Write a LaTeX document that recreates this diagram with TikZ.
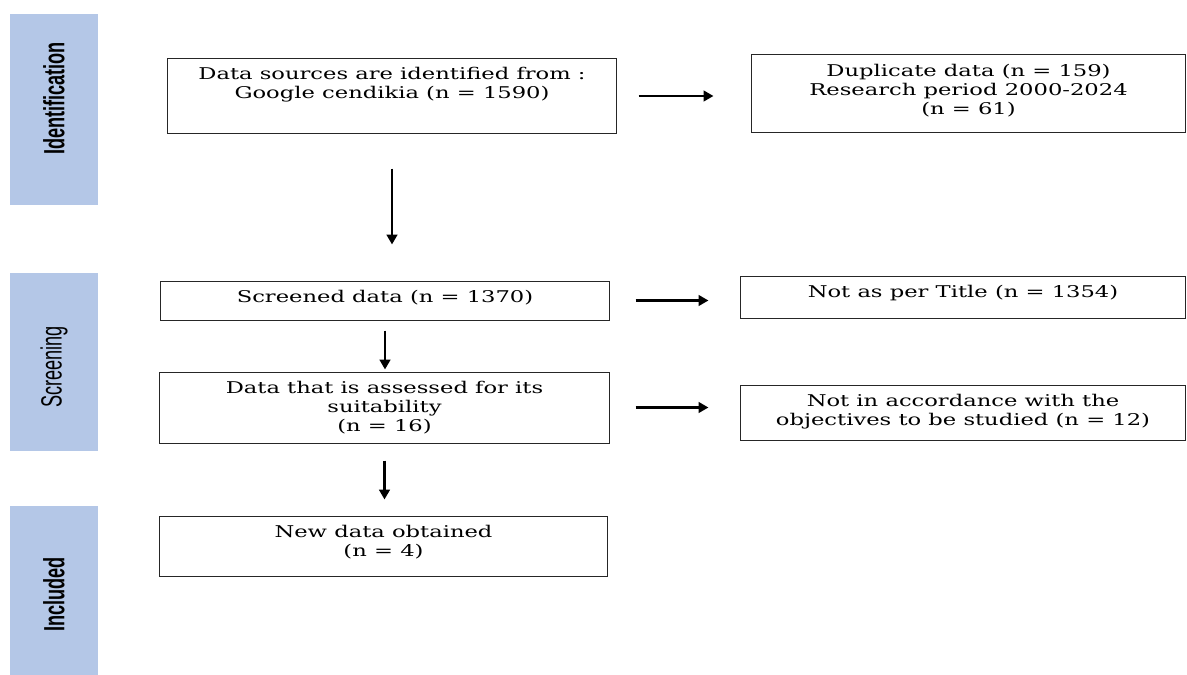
\documentclass[tikz,border=0pt]{standalone}
\usepackage{fontspec}
\setmainfont{DejaVu Serif}[FakeStretch=1.4]
\newfontfamily\sidefont{Liberation Sans}[FakeStretch=0.62]
\usetikzlibrary{arrows.meta}
\definecolor{phaseblue}{RGB}{180,199,231}
\tikzset{
  box/.style={draw=black!85, line width=0.7pt, inner sep=0pt},
  boxtext/.style={anchor=north, align=center, inner sep=0pt, font=\fontsize{11.5}{13.5}\selectfont},
  phase/.style={fill=phaseblue, rotate=90, inner sep=0pt, minimum height=2.2cm, font=\sidefont\fontsize{20.8}{22}\selectfont},
  arr/.style={line width=1.8pt, -{Triangle[length=7pt,width=7.5pt]}}
}
\begin{document}
\begin{tikzpicture}[x=0.025cm, y=-0.025cm]
  \useasboundingbox (0,0) rectangle (1187,675);
  % phases
  \node[phase, minimum width=4.775cm] (idphase) at (54,109.5) {\bfseries\hspace*{0.55cm}Identification};
  \node[phase, minimum width=4.45cm] (scrphase) at (54,362) {Screening\hspace*{0.25cm}};
  \node[phase, minimum width=4.225cm] (incphase) at (54,590.5) {\bfseries Included\hspace*{0.2cm}};
  % boxes
  \node[box, minimum width=11.2cm, minimum height=1.85cm] (src) at (392,96) {};
  \node[box, minimum width=10.825cm, minimum height=1.925cm] (dup) at (968.5,93.5) {};
  \node[box, minimum width=11.2cm, minimum height=0.975cm] (scr) at (385,300.5) {};
  \node[box, minimum width=11.1cm, minimum height=1.05cm] (ttl) at (963,297) {};
  \node[box, minimum width=11.225cm, minimum height=1.775cm] (elig) at (384.5,407.5) {};
  \node[box, minimum width=11.1cm, minimum height=1.375cm] (obj) at (963,412.5) {};
  \node[box, minimum width=11.175cm, minimum height=1.5cm] (incl) at (383.5,546) {};
  % texts
  \node[boxtext] (srctxt) at ([yshift=-0.2cm]src.north) {Data sources are identified from :\\Google cendikia (n = 1590)};
  \node[boxtext] (duptxt) at ([yshift=-0.225cm]dup.north) {Duplicate data (n = 159)\\Research period 2000-2024\\(n = 61)};
  \node[boxtext] (scrtxt) at ([yshift=-0.225cm]scr.north) {Screened data (n = 1370)};
  \node[boxtext] (ttltxt) at ([yshift=-0.225cm]ttl.north) {Not as per Title (n = 1354)};
  \node[boxtext] (eligtxt) at ([yshift=-0.225cm]elig.north) {Data that is assessed for its\\suitability\\(n = 16)};
  \node[boxtext] (objtxt) at ([yshift=-0.225cm]obj.north) {Not in accordance with the\\objectives to be studied (n = 12)};
  \node[boxtext] (incltxt) at ([yshift=-0.225cm]incl.north) {New data obtained\\(n = 4)};
  % arrows
  \draw[arr, shorten <=0.55cm, shorten >=0.95cm] (src.east) -- (src.east -| dup.west);
  \draw[arr, shorten <=0.65cm, shorten >=0.8cm] (scr.east) -- (scr.east -| ttl.west);
  \draw[arr, shorten <=0.65cm, shorten >=0.8cm] (elig.east) -- (elig.east -| obj.west);
  \draw[arr, shorten <=0.875cm, shorten >=0.9cm] (src.south) -- (src.south |- scr.north);
  \draw[arr, shorten <=0.25cm, shorten >=0.05cm] (scr.south) -- (scr.south |- elig.north);
  \draw[arr, shorten <=0.425cm, shorten >=0.4cm] (elig.south) -- (elig.south |- incl.north);
\end{tikzpicture}
\end{document}
